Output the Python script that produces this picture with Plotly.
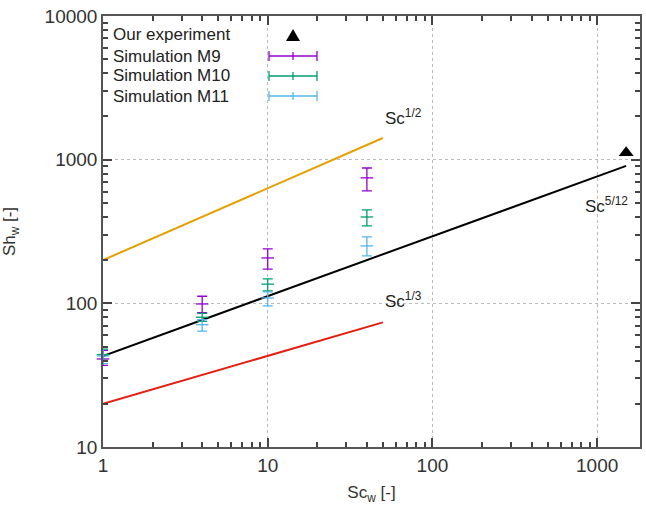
import numpy as np
import plotly.graph_objects as go

# ---- data ----
sc_sim = [1, 4, 10, 40]
m9_val = [41, 99, 207, 747]
m9_hi = [47, 112, 239, 875]
m9_lo = [37, 86, 173, 606]
m10_val = [44, 80, 136, 399]
m10_hi = [48, 85, 148, 447]
m10_lo = [40, 75, 122, 346]
m11_val = [43, 71, 109, 251]
m11_hi = [50, 77, 120, 290]
m11_lo = [38, 64, 96, 214]

exp_sc = [1500]
exp_sh = [1115]

# power-law reference lines: (coef, exponent, x-start, x-end)
half_coef, half_exp, half_x = 200, 1 / 2, [1, 50]
third_coef, third_exp, third_x = 20, 1 / 3, [1, 50]
fivetw_coef, fivetw_exp, fivetw_x = 43, 5 / 12, [1, 1500]

x_ticks = [1, 10, 100, 1000]
y_ticks = [10, 100, 1000, 10000]
x_minor = [d * m for d in [1, 10, 100, 1000] for m in range(2, 10)]
y_minor = [d * m for d in [10, 100, 1000] for m in range(2, 10)]

C_M9 = "#9400d3"
C_M10 = "#009e73"
C_M11 = "#56b4e9"
C_HALF = "#e69f00"
C_THIRD = "#e51e10"
FONT = "Liberation Sans, Arial, sans-serif"
TXT = "#333333"

fig = go.Figure()


def powerline(coef, exp, xs, color):
    x = np.logspace(np.log10(xs[0]), np.log10(xs[1]), 50)
    fig.add_trace(go.Scatter(x=x, y=coef * x ** exp, mode="lines",
                             line=dict(color=color, width=2),
                             showlegend=False, hoverinfo="skip"))


powerline(half_coef, half_exp, half_x, C_HALF)
powerline(third_coef, third_exp, third_x, C_THIRD)
powerline(fivetw_coef, fivetw_exp, fivetw_x, "black")


def sim(vals, hi, lo, color, name):
    v = np.array(vals, float)
    fig.add_trace(go.Scatter(
        x=sc_sim, y=v, mode="markers", name=name,
        marker=dict(symbol="line-ew", size=9, line=dict(color=color, width=1.3)),
        error_y=dict(type="data", symmetric=False,
                     array=np.array(hi) - v, arrayminus=v - np.array(lo),
                     color=color, thickness=1.3, width=5),
        showlegend=False, cliponaxis=False))


sim(m9_val, m9_hi, m9_lo, C_M9, "Simulation M9")
sim(m10_val, m10_hi, m10_lo, C_M10, "Simulation M10")
sim(m11_val, m11_hi, m11_lo, C_M11, "Simulation M11")

fig.add_trace(go.Scatter(x=exp_sc, y=exp_sh, mode="markers",
                         marker=dict(symbol="triangle-up", size=13, color="black"),
                         showlegend=False))
# invisible trace so the minor-tick overlay axes are drawn
fig.add_trace(go.Scatter(x=exp_sc, y=exp_sh, mode="markers", xaxis="x2", yaxis="y2",
                         marker=dict(opacity=0), showlegend=False, hoverinfo="skip"))

# ---- manual gnuplot-style key ----
W, H = 646, 512
L, R, T, B = 103, 6, 16, 65
pw, ph = W - L - R, H - T - B


def px(x):
    return (x - L) / pw


def py(y):
    return 1 - (y - T) / ph


key_items = [("Our experiment", None, 35), ("Simulation M9", C_M9, 56),
             ("Simulation M10", C_M10, 76), ("Simulation M11", C_M11, 96)]
shapes = []
annotations = []
for label, color, ypix in key_items:
    annotations.append(dict(x=px(111), y=py(ypix), xref="paper", yref="paper",
                            text=label, showarrow=False, xanchor="left", yanchor="middle",
                            font=dict(family=FONT, size=17, color="#222")))
    if color is None:
        shapes.append(dict(type="path", xref="paper", yref="paper",
                           path=f"M {px(286)} {py(41)} L {px(300)} {py(41)} L {px(293)} {py(29)} Z",
                           fillcolor="black", line=dict(color="black", width=0)))
    else:
        shapes.append(dict(type="line", xref="paper", yref="paper", x0=px(269), x1=px(317),
                           y0=py(ypix), y1=py(ypix), line=dict(color=color, width=1.3)))
        for xc, hh in [(269, 5), (317, 5), (293, 4)]:
            shapes.append(dict(type="line", xref="paper", yref="paper", x0=px(xc), x1=px(xc),
                               y0=py(ypix - hh), y1=py(ypix + hh), line=dict(color=color, width=1.3)))

for txt, xx, yy in [("Sc<sup>1/2</sup>", 50, 1982), ("Sc<sup>1/3</sup>", 50, 106),
                    ("Sc<sup>5/12</sup>", 821, 484)]:
    annotations.append(dict(x=np.log10(xx), y=np.log10(yy), xref="x", yref="y", text=txt,
                            showarrow=False, xanchor="left", yanchor="middle",
                            font=dict(family=FONT, size=17, color="#222")))

x_range = [0, np.log10(1820)]
y_range = [1, 4]
base = dict(type="log", ticks="inside", tickcolor="#444", tickwidth=1.5,
            automargin=False, zeroline=False, mirror="ticks")
major = dict(base, ticklen=9, showline=True, linecolor="#555", linewidth=1.5,
             showgrid=True, gridcolor="#bbbbbb", griddash="dot",
             tickfont=dict(family=FONT, size=19, color=TXT))
minor = dict(base, ticklen=5, showline=False, showgrid=False, showticklabels=False)

fig.update_layout(
    width=W, height=H, margin=dict(l=L, r=R, t=T, b=B, autoexpand=False),
    paper_bgcolor="white", plot_bgcolor="white", showlegend=False,
    shapes=shapes, annotations=annotations,
    xaxis=dict(major, range=x_range, tickvals=x_ticks, ticktext=[str(v) for v in x_ticks],
               title=dict(text="Sc<sub>w</sub> [-]", standoff=12,
                          font=dict(family=FONT, size=17, color=TXT))),
    yaxis=dict(major, range=y_range, tickvals=y_ticks, ticktext=[str(v) for v in y_ticks],
               title=dict(text="Sh<sub>w</sub> [-]", standoff=28,
                          font=dict(family=FONT, size=17, color=TXT))),
    xaxis2=dict(minor, range=x_range, tickvals=x_minor, overlaying="x", side="bottom",
                anchor="y2"),
    yaxis2=dict(minor, range=y_range, tickvals=y_minor, overlaying="y", side="left",
                anchor="x2"),
)

fig.write_html("out.html", config={"displayModeBar": False},
               post_script="document.body.style.margin='0';")
